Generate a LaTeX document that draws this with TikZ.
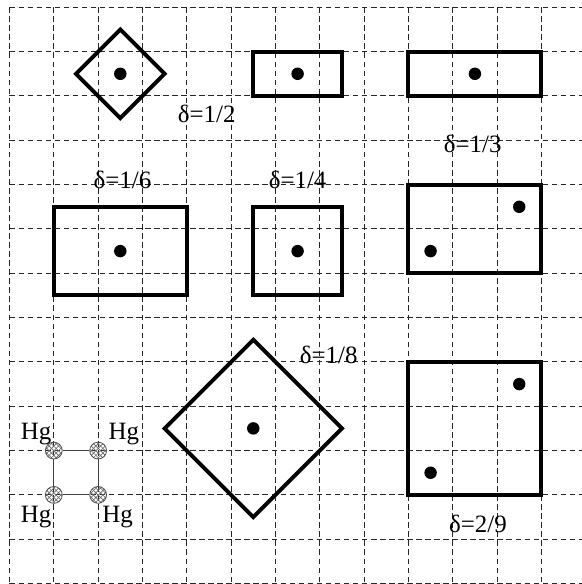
\documentclass[tikz,border=0pt]{standalone}
\usepackage{fontspec}
\setmainfont{Liberation Serif}
\usetikzlibrary{patterns}
\begin{document}
\begin{tikzpicture}[x=1cm,y=-1cm,
  gridline/.style={line width=0.6pt,dash pattern=on 3.6pt off 2.2pt,black!85},
  cell/.style={line width=2.5pt,black,line join=miter},
  site/.style={circle,fill=black,inner sep=0pt,minimum size=8pt},
  lbl/.style={inner sep=0pt,font=\fontsize{16}{18}\selectfont},
  hg/.style={circle,draw=black!70,line width=0.5pt,pattern=crosshatch,pattern color=black!60,inner sep=0pt,minimum size=10.8pt},
  bond/.style={line width=0.7pt,black!75}]
\useasboundingbox (-0.214,-0.165) rectangle (12.914,13.01);
% grid
\foreach \i in {0,...,12} \draw[gridline] (\i,0) -- (\i,13);
\foreach \j in {0,...,13} \draw[gridline] (0,\j) -- (12.914,\j);
% delta = 1/2
\draw[cell] (2.5,0.5) -- (3.5,1.5) -- (2.5,2.5) -- (1.5,1.5) -- cycle;
\node[site] (d1) at (2.5,1.5) {};
\node[lbl] (l1) at (4.45,2.4) {δ=1/2};
% delta = 1/4
\draw[cell] (5.5,1) rectangle (7.5,2);
\node[site] (d2) at (6.5,1.5) {};
\node[lbl] (l2) at (6.5,3.9) {δ=1/4};
% delta = 1/3
\draw[cell] (9,1) rectangle (12,2);
\node[site] (d3) at (10.5,1.5) {};
\node[lbl] (l3) at (10.45,3.08) {δ=1/3};
% delta = 1/6
\node[lbl] (l4) at (2.55,3.9) {δ=1/6};
\draw[cell] (1,4.5) rectangle (4,6.5);
\node[site] (d4) at (2.5,5.5) {};
% middle
\draw[cell] (5.5,4.5) rectangle (7.5,6.5);
\node[site] (d5) at (6.5,5.5) {};
% right two-site
\draw[cell] (9,4) rectangle (12,6);
\node[site] (d6) at (11.5,4.5) {};
\node[site] (d7) at (9.5,5.5) {};
% delta = 1/8
\draw[cell] (5.5,7.5) -- (7.5,9.5) -- (5.5,11.5) -- (3.5,9.5) -- cycle;
\node[site] (d8) at (5.5,9.5) {};
\node[lbl] (l5) at (7.2,7.84) {δ=1/8};
% delta = 2/9
\draw[cell] (9,8) rectangle (12,11);
\node[site] (d9) at (11.5,8.5) {};
\node[site] (d10) at (9.5,10.5) {};
\node[lbl] (l6) at (10.57,11.65) {δ=2/9};
% Hg plaquette
\node[hg] (h1) at (1,10) {};
\node[hg] (h2) at (2,10) {};
\node[hg] (h3) at (1,11) {};
\node[hg] (h4) at (2,11) {};
\draw[bond] (h1) -- (h2);
\draw[bond] (h2) -- (h4);
\draw[bond] (h4) -- (h3);
\draw[bond] (h3) -- (h1);
\node[lbl] (t1) at (0.6,9.62) {Hg};
\node[lbl] (t2) at (2.58,9.62) {Hg};
\node[lbl] (t3) at (0.6,11.5) {Hg};
\node[lbl] (t4) at (2.44,11.5) {Hg};
\end{tikzpicture}
\end{document}
